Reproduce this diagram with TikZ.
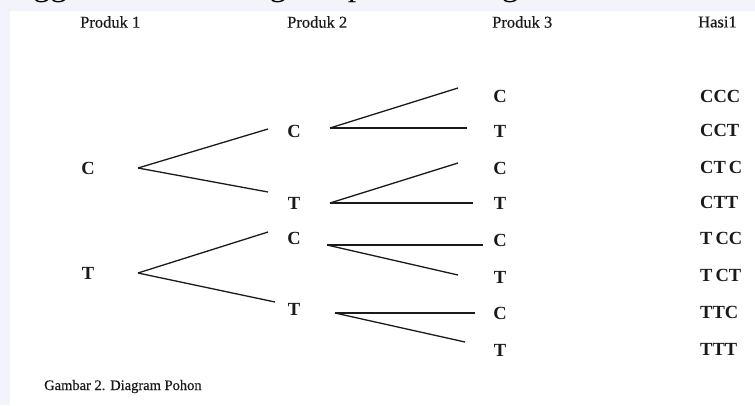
\documentclass[tikz,border=0pt]{standalone}
\usepackage{fontspec}
\setmainfont{Liberation Serif}
\newfontfamily\heavyserif[FakeBold=0.4]{Liberation Serif}
\usetikzlibrary{calc}
\definecolor{bgl}{HTML}{F3F3FB}
\definecolor{ink}{HTML}{1A1A1A}
\begin{document}
\begin{tikzpicture}[x=1pt,y=-1pt,
  lvl/.style={font=\fontsize{18.5}{18.5}\selectfont\bfseries, text=ink, inner sep=0pt},
  res/.style={font=\fontsize{18.5}{18.5}\selectfont\bfseries, text=ink, inner sep=0pt, anchor=west},
  hdr/.style={font=\heavyserif\fontsize{16.5}{16.5}\selectfont, text=ink, inner sep=0pt, anchor=west},
  toptxt/.style={font=\fontsize{34}{34}\selectfont, text=black, inner sep=0pt, outer sep=0pt, anchor=base west},
  br/.style={line width=1.3pt, draw=ink}]
\fill[bgl] (0,0) rectangle (755,405);
\fill[white] (10,11) rectangle (755,405);
\useasboundingbox (0,0) rectangle (755,405);
% clipped line of text above the figure (only descenders show)
\begin{scope}
\clip (0,0) rectangle (755,10.5);
\node[toptxt] (t1) at (-44,-5) {Sehingga terbentuk diagram pohon sebagai berikut};
\end{scope}
% headers
\node[hdr] (h1) at (80,22) {Produk 1};
\node[hdr] (h2) at (287,22) {Produk 2};
\node[hdr] (h3) at (492,22) {Produk 3};
\node[hdr] (h4) at (698,22) {Hasi1};
% level 1
\node[lvl] (a) at (88,168) {C};
\node[lvl] (b) at (88,273) {T};
% level 2
\node[lvl] (ac) at (294,131) {C};
\node[lvl] (at) at (294,203) {T};
\node[lvl] (bc) at (294,238) {C};
\node[lvl] (bt) at (294,309) {T};
% level 3
\node[lvl] (acc) at (500,96) {C};
\node[lvl] (act) at (500,131) {T};
\node[lvl] (atc) at (500,168) {C};
\node[lvl] (att) at (500,203) {T};
\node[lvl] (bcc) at (500,240) {C};
\node[lvl] (bct) at (500,277) {T};
\node[lvl] (btc) at (500,313) {C};
\node[lvl] (btt) at (500,350) {T};
% results
\node[res] (r1) at (700,96) {CCC};
\node[res] (r2) at (700,130) {CCT};
\node[res] (r3) at (700,167) {CT\,C};
\node[res] (r4) at (700,202) {CTT};
\node[res] (r5) at (700,238) {T\,CC};
\node[res] (r6) at (700,275) {T\,CT};
\node[res] (r7) at (700,312) {TTC};
\node[res] (r8) at (700,349) {TTT};
% branches level 1 -> 2
\draw[br] ($(a)+(50,0)$) -- ($(ac)+(-26,-2)$);
\draw[br] ($(a)+(50,0)$) -- ($(at)+(-26,-11)$);
\draw[br] ($(b)+(50,0)$) -- ($(bc)+(-26,-6)$);
\draw[br] ($(b)+(50,0)$) -- ($(bt)+(-19,-7)$);
% branches level 2 -> 3
\draw[br] ($(ac)+(36,-3)$) -- ($(acc)+(-42,-8)$);
\draw[br] ($(ac)+(36,-3)$) -- ($(act)+(-33,-3)$);
\draw[br] ($(at)+(36,0)$) -- ($(atc)+(-42,-5)$);
\draw[br] ($(at)+(36,0)$) -- ($(att)+(-27,0)$);
\draw[br] ($(bc)+(33,7)$) -- ($(bcc)+(-17,5)$);
\draw[br] ($(bc)+(33,7)$) -- ($(bct)+(-42,-2)$);
\draw[br] ($(bt)+(41,4)$) -- ($(btc)+(-25,0)$);
\draw[br] ($(bt)+(41,4)$) -- ($(btt)+(-35,-8)$);
% caption
\node[font=\heavyserif\fontsize{14.5}{14.5}\selectfont, text=ink, inner sep=0pt, anchor=base west] (cap) at (44,390) {Gambar 2. Diagram Pohon};
\end{tikzpicture}
\end{document}
